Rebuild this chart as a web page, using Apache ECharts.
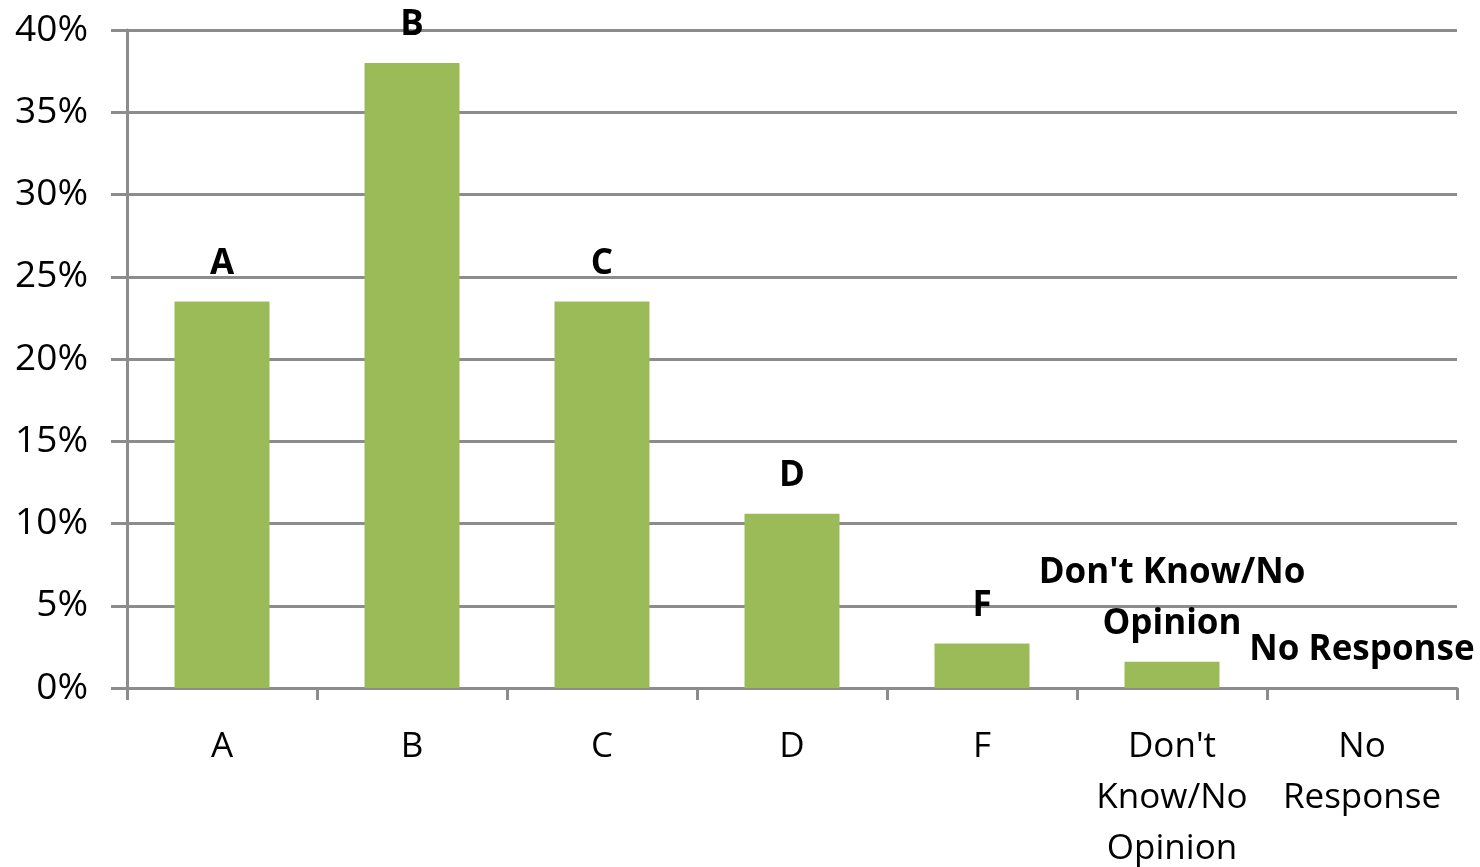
<!DOCTYPE html>
<html>
<head>
<meta charset="utf-8">
<style>
  html, body { margin: 0; padding: 0; background: #ffffff; }
  #chart { width: 1480px; height: 867px; }
</style>
<script src="https://cdn.jsdelivr.net/npm/echarts@6/dist/echarts.min.js"></script>
</head>
<body>
<div id="chart"></div>
<script>
// Grade distribution (share of responses)
const categories = ['A', 'B', 'C', 'D', 'F', "Don't Know/No Opinion", 'No Response'];
const axisLabels = ['A', 'B', 'C', 'D', 'F', "Don't\nKnow/No\nOpinion", 'No\nResponse'];
const barLabels = ['A', 'B', 'C', 'D', 'F', "Don't Know/No\nOpinion", 'No Response'];
const shares = [0.235, 0.38, 0.235, 0.106, 0.027, 0.016, 0.0];
const yTicks = [0, 0.05, 0.10, 0.15, 0.20, 0.25, 0.30, 0.35, 0.40];

const FONT = '"Open Sans", "DejaVu Sans", sans-serif';
const GRID_COLOR = '#8c8c8c';

const chart = echarts.init(document.getElementById('chart'));
chart.setOption({
  animation: false,
  backgroundColor: '#ffffff',
  grid: { left: 127, right: 23, top: 30, bottom: 179, containLabel: false, outerBoundsMode: 'none' },
  xAxis: {
    type: 'category',
    data: categories,
    boundaryGap: true,
    axisLine: { show: true, lineStyle: { color: GRID_COLOR, width: 3 } },
    axisTick: { show: true, length: 12, alignWithLabel: false, lineStyle: { color: GRID_COLOR, width: 3 } },
    axisLabel: {
      margin: 34,
      fontFamily: FONT,
      fontSize: 35,
      color: '#000000',
      lineHeight: 51,
      interval: 0,
      formatter: (v, i) => axisLabels[i]
    }
  },
  yAxis: {
    type: 'value',
    min: 0,
    max: 0.40,
    interval: 0.05,
    axisLine: { show: true, lineStyle: { color: GRID_COLOR, width: 3 } },
    axisTick: { show: true, length: 16, lineStyle: { color: GRID_COLOR, width: 3 } },
    splitLine: { show: true, lineStyle: { color: GRID_COLOR, width: 3 } },
    axisLabel: {
      margin: 39,
      fontFamily: FONT,
      fontSize: 37,
      color: '#000000',
      padding: [8, 0, 0, 0],
      formatter: v => {
        const t = yTicks.find(k => Math.abs(k - v) < 1e-9);
        return Math.round((t !== undefined ? t : v) * 100) + '%';
      }
    }
  },
  series: [{
    type: 'bar',
    data: shares,
    barWidth: '50%',
    itemStyle: { color: '#9bbb59' },
    label: {
      show: true,
      position: 'top',
      distance: 12,
      fontFamily: FONT,
      fontWeight: 'bold',
      fontSize: 35,
      lineHeight: 51,
      color: '#000000',
      formatter: p => barLabels[p.dataIndex]
    }
  }]
});
</script>
</body>
</html>
